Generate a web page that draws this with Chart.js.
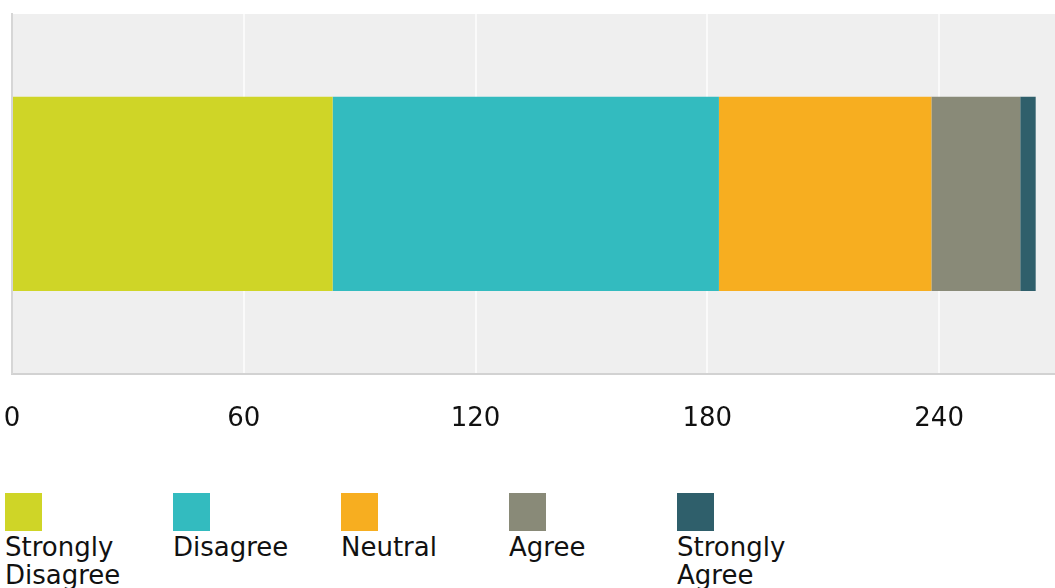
<!DOCTYPE html>
<html>
<head>
<meta charset="utf-8">
<script src="https://cdn.jsdelivr.net/npm/chart.js@4"></script>
<style>
    html, body { margin: 0; padding: 0; background: #fff; }
    body { width: 1055px; height: 588px; overflow: hidden; position: relative; font-family: "DejaVu Sans", sans-serif; }
    #wrap { position: absolute; left: 0; top: 0; width: 1055px; height: 475px; }
    #leyenda { position: absolute; left: 5px; top: 493px; display: flex; }
    .item { width: 168px; }
    .caja { width: 37px; height: 38px; }
    .texto { font-size: 26px; line-height: 28px; color: #111; width: 130px; margin-top: 2px; }
</style>
</head>
<body>
<div id="wrap"><canvas id="grafico"></canvas></div>
<div id="leyenda"></div>
<script>
const categorias = ['Respuestas'];
const series = ['Strongly Disagree', 'Disagree', 'Neutral', 'Agree', 'Strongly Agree'];
const valores = [83, 100, 55, 23, 4];
const colores = ['#cfd527', '#33bbbf', '#f7ae20', '#898a78', '#2f5f6b'];
const ticksX = [0, 60, 120, 180, 240];

const fondoPlot = {
    id: 'fondoPlot',
    beforeDraw(chart) {
        const { ctx, chartArea: a } = chart;
        ctx.save();
        ctx.fillStyle = '#efefef';
        ctx.fillRect(a.left, a.top, a.right - a.left, a.bottom - a.top);
        ctx.restore();
    }
};

const ctx = document.getElementById('grafico').getContext('2d');
const chart = new Chart(ctx, {
    type: 'bar',
    data: {
        labels: categorias,
        datasets: series.map((s, i) => ({
            label: s,
            data: [valores[i]],
            backgroundColor: colores[i],
            borderWidth: 0,
            categoryPercentage: 1,
            barPercentage: 0.54
        }))
    },
    options: {
        indexAxis: 'y',
        responsive: true,
        maintainAspectRatio: false,
        animation: false,
        layout: { padding: { left: 12, top: 14, right: 0, bottom: 40 } },
        plugins: { legend: { display: false }, tooltip: { enabled: false } },
        scales: {
            x: {
                stacked: true,
                min: 0,
                max: 270,
                afterBuildTicks: scale => { scale.ticks = ticksX.map(v => ({ value: v })); },
                grid: { color: '#fafafa', lineWidth: 2, drawTicks: true, tickLength: 30, tickColor: 'rgba(0,0,0,0)' },
                border: { display: true, color: '#d2d2d2', width: 2 },
                ticks: { padding: 0, color: '#111', font: { family: 'DejaVu Sans', size: 26 }, maxRotation: 0 }
            },
            y: {
                stacked: true,
                afterFit: scale => { scale.width = 0; },
                grid: { display: false, drawTicks: false },
                border: { display: true, color: '#d6d6d6', width: 2 },
                ticks: { display: false }
            }
        }
    },
    plugins: [fondoPlot]
});

document.getElementById('leyenda').innerHTML = series.map((s, i) => `
    <div class="item">
        <div class="caja" style="background:${colores[i]}"></div>
        <div class="texto">${s}</div>
    </div>
`).join('');
</script>
</body>
</html>
